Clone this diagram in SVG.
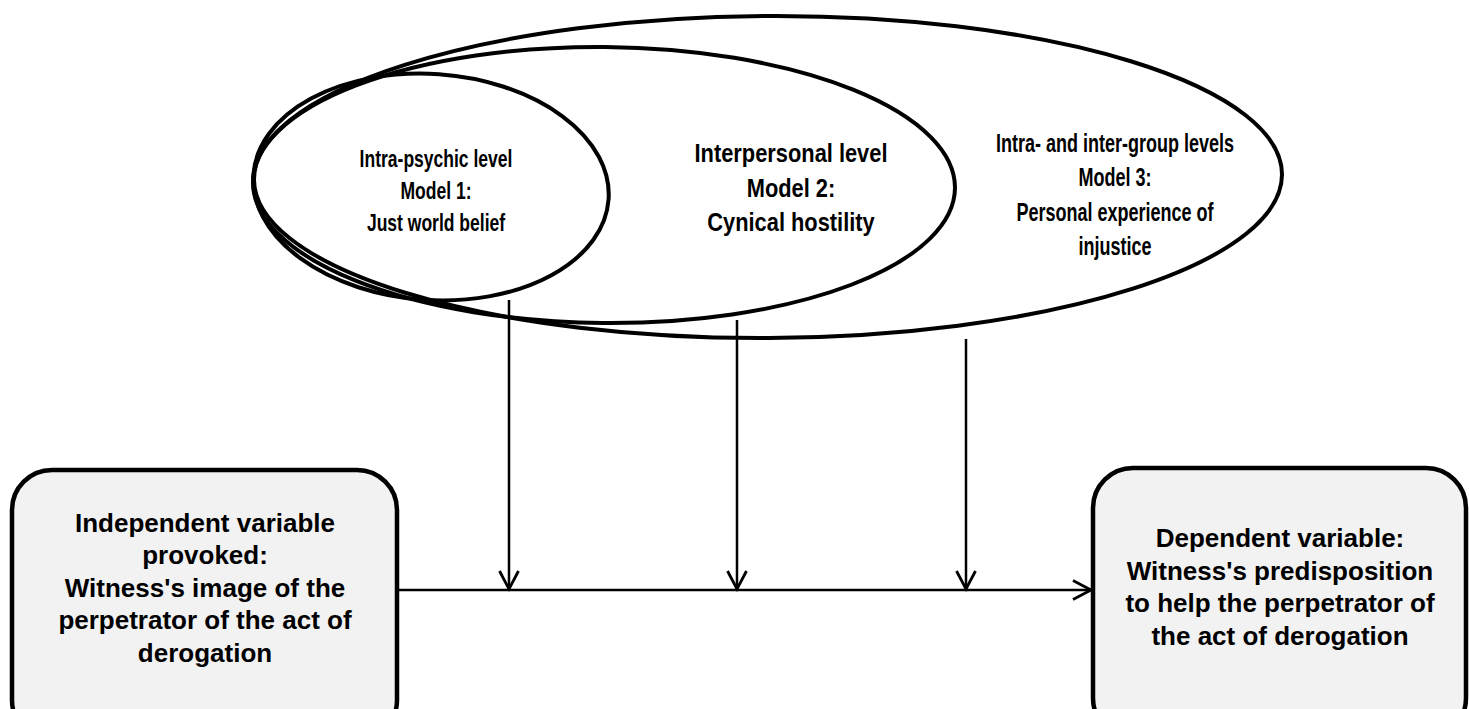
<svg xmlns="http://www.w3.org/2000/svg" width="1469" height="709" viewBox="0 0 1469 709">
<defs>
<style>
.ell{fill:none;stroke:#000;stroke-width:4}
.box{fill:#f2f2f2;stroke:#000;stroke-width:4.5}
.conn{fill:none;stroke:#000;stroke-width:2.5}
.t{font-family:"Liberation Sans",Arial,sans-serif;font-weight:bold;fill:#000;text-anchor:middle}
.bt{font-size:26px}
</style>
<marker id="arr" markerUnits="userSpaceOnUse" viewBox="-22 -12 26 24" markerWidth="26" markerHeight="24" refX="0" refY="0" orient="auto" overflow="visible">
<path d="M-18,-9.5 L0,0 L-18,9.5" fill="none" stroke="#000" stroke-width="2.8"/>
</marker>
</defs>
<rect width="1469" height="709" fill="#fff"/>

<g id="level3">
<ellipse class="ell" cx="768" cy="177" rx="514" ry="161" transform="rotate(-0.3 768 177)"/>
<g transform="translate(1115,0) scale(0.72,1)">
<text class="t" font-size="25" x="0" y="152">Intra- and inter-group levels</text>
<text class="t" font-size="25" x="0" y="186">Model 3:</text>
<text class="t" font-size="25" x="0" y="221">Personal experience of</text>
<text class="t" font-size="25" x="0" y="255">injustice</text>
</g>
</g>

<g id="level2">
<ellipse class="ell" cx="604" cy="185" rx="351" ry="138" transform="rotate(0.5 604 185)"/>
<g transform="translate(791,0) scale(0.84,1)">
<text class="t" font-size="26" x="0" y="162">Interpersonal level</text>
<text class="t" font-size="26" x="0" y="197">Model 2:</text>
<text class="t" font-size="26" x="0" y="231">Cynical hostility</text>
</g>
</g>

<g id="level1">
<ellipse class="ell" cx="431" cy="187" rx="178" ry="113" transform="rotate(4 431 187)"/>
<g transform="translate(436,0) scale(0.73,1)">
<text class="t" font-size="24" x="0" y="167">Intra-psychic level</text>
<text class="t" font-size="24" x="0" y="199">Model 1:</text>
<text class="t" font-size="24" x="0" y="231">Just world belief</text>
</g>
</g>

<g id="independent">
<rect class="box" x="12" y="470" width="385" height="270" rx="40"/>
<text class="t bt" x="205" y="532">Independent variable</text>
<text class="t bt" x="205" y="564">provoked:</text>
<text class="t bt" x="205" y="597">Witness's image of the</text>
<text class="t bt" x="205" y="629">perpetrator of the act of</text>
<text class="t bt" x="205" y="662">derogation</text>
</g>

<g id="dependent">
<rect class="box" x="1093" y="468" width="373" height="270" rx="40"/>
<text class="t bt" x="1280" y="547">Dependent variable:</text>
<text class="t bt" x="1280" y="580">Witness's predisposition</text>
<text class="t bt" x="1280" y="612">to help the perpetrator of</text>
<text class="t bt" x="1280" y="645">the act of derogation</text>
</g>

<g id="connectors">
<line class="conn" x1="397" y1="590" x2="1091" y2="590" marker-end="url(#arr)"/>
<line class="conn" x1="509" y1="300" x2="509" y2="589" marker-end="url(#arr)"/>
<line class="conn" x1="737" y1="320" x2="737" y2="589" marker-end="url(#arr)"/>
<line class="conn" x1="966" y1="339" x2="966" y2="589" marker-end="url(#arr)"/>
</g>
</svg>
